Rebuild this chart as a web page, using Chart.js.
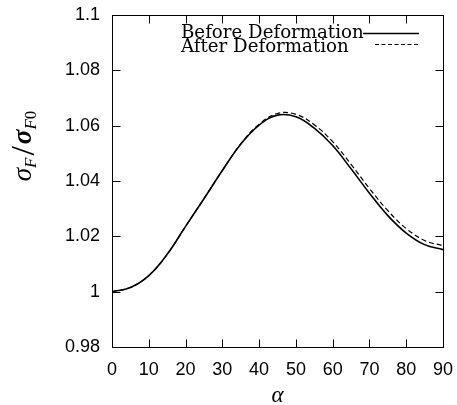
<!DOCTYPE html>
<html><head><meta charset="utf-8">
<script src="https://cdn.jsdelivr.net/npm/chart.js@4.4.0/dist/chart.umd.min.js"></script>
<style>html,body{margin:0;padding:0;background:#fff;}#wrap{width:457px;height:405px;}</style>
</head><body><div id="wrap"><canvas id="c" width="457" height="405"></canvas></div>
<script>
const alpha = [0,5,10,15,20,25,30,35,40,45,50,55,60,65,70,75,80,85,90];
const beforeDeformation = [1.0000,1.0015,1.0058,1.0135,1.0236,1.0336,1.0438,1.0533,1.0602,1.0638,1.0632,1.0591,1.0528,1.0444,1.0356,1.0275,1.0212,1.0170,1.0152];
const afterDeformation  = [1.0000,1.0015,1.0058,1.0135,1.0236,1.0336,1.0438,1.0534,1.0605,1.0644,1.0641,1.0603,1.0542,1.0460,1.0373,1.0293,1.0228,1.0185,1.0166];
const seriesLabels = ['Before Deformation','After Deformation'];
const xTickValues = [0,10,20,30,40,50,60,70,80,90];
const yTickValues = [0.98,1,1.02,1.04,1.06,1.08,1.1];
const yTickLabels = ['0.98','1','1.02','1.04','1.06','1.08','1.1'];
const xTitle = 'α';

const toPts = arr => alpha.map((a,i)=>({x:a,y:arr[i]}));
const zeroPad = s => { s.paddingLeft = 0; s.paddingRight = 0; s.paddingTop = 0; s.paddingBottom = 0; };

const decor = {
  id:'decor',
  afterDraw(chart){
    const ctx = chart.ctx, ca = chart.chartArea, xs = chart.scales.x, ys = chart.scales.y;
    ctx.save();
    ctx.strokeStyle = '#000'; ctx.lineWidth = 1;
    const L = Math.round(ca.left)+0.5, R = Math.round(ca.right)+0.5, T = Math.round(ca.top)+0.5, B = Math.round(ca.bottom)+0.5;
    ctx.strokeRect(L, T, R-L, B-T);
    const tl = 8;
    ctx.beginPath();
    xTickValues.forEach(v=>{
      const p = Math.round(xs.getPixelForValue(v))+0.5;
      ctx.moveTo(p,B); ctx.lineTo(p,B-tl);
      ctx.moveTo(p,T); ctx.lineTo(p,T+tl);
    });
    yTickValues.forEach(v=>{
      const p = Math.round(ys.getPixelForValue(v))+0.5;
      ctx.moveTo(L,p); ctx.lineTo(L+tl,p);
      ctx.moveTo(R,p); ctx.lineTo(R-tl,p);
    });
    ctx.stroke();

    // legend
    ctx.fillStyle = '#000';
    ctx.font = '18.2px "DejaVu Serif"';
    ctx.textAlign = 'left'; ctx.textBaseline = 'alphabetic';
    ctx.fillText(chart.data.datasets[0].label, 181, 38);
    ctx.fillText(chart.data.datasets[1].label, 181, 52);
    ctx.lineWidth = 1.5;
    ctx.beginPath(); ctx.moveTo(363,33.5); ctx.lineTo(419,33.5); ctx.stroke();
    ctx.lineWidth = 1.2;
    ctx.setLineDash([4,2.5]);
    ctx.beginPath(); ctx.moveTo(375,44.5); ctx.lineTo(419,44.5); ctx.stroke();
    ctx.setLineDash([]);

    // x title
    ctx.font = 'italic 23px "Liberation Serif"';
    ctx.textAlign = 'center';
    ctx.fillText(xTitle, (ca.left+ca.right)/2, 402);

    // y title: σF / σF0 (rotated)
    ctx.translate(31, 146);
    ctx.rotate(-Math.PI/2);
    const parts = [
      {t:'σ', f:'italic 27px "Liberation Serif"', dy:0},
      {t:'F', f:'italic 17px "Liberation Serif"', dy:5},
      {t:'/', f:'34px "Liberation Serif"', dy:3, pad:2},
      {t:'σ', f:'bold italic 27px "Liberation Serif"', dy:0},
      {t:'F', f:'italic 17px "Liberation Serif"', dy:5},
      {t:'0', f:'17px "Liberation Serif"', dy:5}
    ];
    let total = 0;
    parts.forEach(p=>{ctx.font=p.f; p.w = ctx.measureText(p.t).width + (p.pad||0)*2; total += p.w;});
    let x = -total/2;
    ctx.textAlign = 'left';
    parts.forEach(p=>{ctx.font=p.f; ctx.fillText(p.t, x+(p.pad||0), p.dy); x += p.w;});
    ctx.restore();
  }
};

new Chart(document.getElementById('c'), {
  type:'line',
  data:{datasets:[
    {label:seriesLabels[0], data:toPts(beforeDeformation), borderColor:'#000', borderWidth:1.6, pointRadius:0, fill:false, tension:0.4},
    {label:seriesLabels[1], data:toPts(afterDeformation), borderColor:'#000', borderWidth:1.2, borderDash:[5,3], pointRadius:0, fill:false, tension:0.4}
  ]},
  options:{
    responsive:false, animation:false, devicePixelRatio:1,
    layout:{padding:{top:15,right:14,left:0,bottom:0}},
    plugins:{legend:{display:false}, tooltip:{enabled:false}},
    scales:{
      x:{type:'linear', min:0, max:90,
        afterBuildTicks:s=>{s.ticks = xTickValues.map(v=>({value:v}));},
        afterFit:s=>{s.height = 58; zeroPad(s);},
        grid:{display:false, drawTicks:false}, border:{display:false},
        ticks:{padding:12, color:'#000', maxRotation:0, autoSkip:false, font:{family:'"Liberation Sans"', size:18},
          callback:v=>String(v)}},
      y:{type:'linear', min:0.98, max:1.1,
        afterBuildTicks:s=>{s.ticks = yTickValues.map(v=>({value:v}));},
        afterFit:s=>{s.width = 112; zeroPad(s);},
        grid:{display:false, drawTicks:false}, border:{display:false},
        ticks:{padding:12, color:'#000', autoSkip:false, font:{family:'"Liberation Sans"', size:18},
          callback:(v)=>{const i = yTickValues.findIndex(t=>Math.abs(t-v)<1e-9); return i>=0?yTickLabels[i]:'';}}}
    }
  },
  plugins:[decor]
});
</script></body></html>
